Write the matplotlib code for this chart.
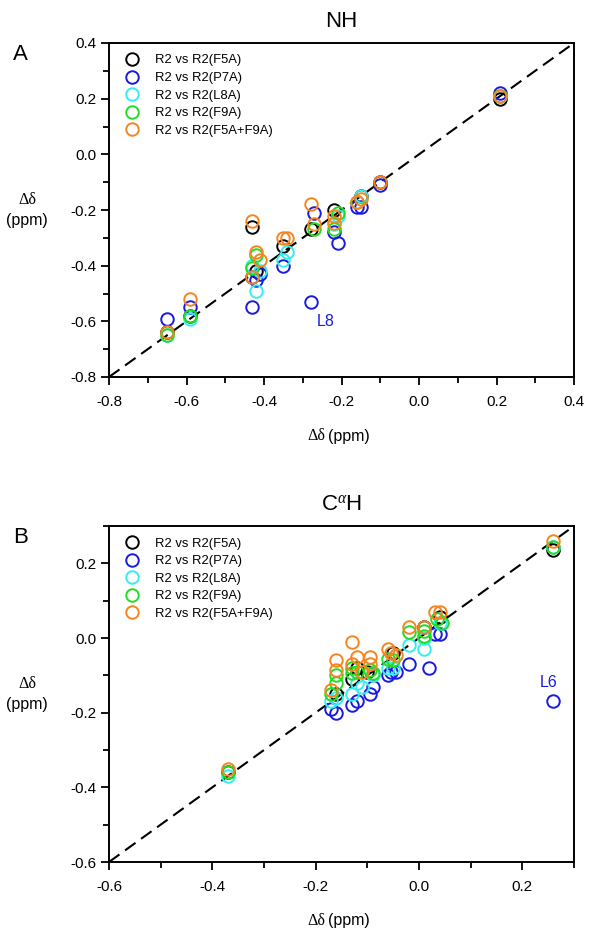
import matplotlib as mpl
mpl.use('Agg')
import matplotlib.pyplot as plt
from matplotlib.ticker import MultipleLocator

plt.rcParams['font.family'] = ['Liberation Sans', 'DejaVu Sans']
plt.rcParams['mathtext.fontset'] = 'custom'
plt.rcParams['mathtext.rm'] = 'Liberation Serif'
plt.rcParams['mathtext.it'] = 'Liberation Serif:italic'

labels = ['R2 vs R2(F5A)', 'R2 vs R2(P7A)', 'R2 vs R2(L8A)', 'R2 vs R2(F9A)', 'R2 vs R2(F5A+F9A)']
colors = ['black', '#1a1ae0', '#33eeee', '#22dd22', '#f5861f']

# panel A : NH
nh_f5a_x = [-0.65, -0.59, -0.43, -0.42, -0.35, -0.28, -0.22, -0.15, -0.10, 0.21]
nh_f5a_y = [-0.64, -0.58, -0.26, -0.42, -0.33, -0.27, -0.20, -0.15, -0.10, 0.20]
nh_p7a_x = [-0.65, -0.59, -0.43, -0.43, -0.42, -0.41, -0.35, -0.28, -0.27, -0.22, -0.21, -0.16, -0.15, -0.10, 0.21]
nh_p7a_y = [-0.59, -0.55, -0.55, -0.44, -0.45, -0.43, -0.40, -0.53, -0.21, -0.28, -0.32, -0.19, -0.19, -0.11, 0.22]
nh_l8a_x = [-0.65, -0.59, -0.43, -0.42, -0.41, -0.35, -0.34, -0.22, -0.21, -0.15, 0.21]
nh_l8a_y = [-0.65, -0.59, -0.40, -0.49, -0.42, -0.38, -0.35, -0.25, -0.22, -0.15, 0.21]
nh_f9a_x = [-0.65, -0.59, -0.43, -0.42, -0.27, -0.22, -0.21, -0.16, 0.21]
nh_f9a_y = [-0.65, -0.58, -0.41, -0.36, -0.27, -0.27, -0.21, -0.17, 0.21]
nh_f5f9_x = [-0.65, -0.59, -0.43, -0.43, -0.42, -0.41, -0.35, -0.34, -0.28, -0.27, -0.22, -0.22, -0.16, -0.15, -0.10, 0.21]
nh_f5f9_y = [-0.64, -0.52, -0.24, -0.44, -0.35, -0.38, -0.30, -0.30, -0.18, -0.25, -0.22, -0.245, -0.17, -0.16, -0.10, 0.21]

# panel B : CaH
ca_f5a_x = [-0.37, -0.16, -0.13, -0.12, -0.10, -0.05, 0.01, 0.04, 0.26]
ca_f5a_y = [-0.36, -0.15, -0.11, -0.08, -0.09, -0.04, 0.03, 0.055, 0.235]
ca_p7a_x = [-0.17, -0.16, -0.13, -0.12, -0.095, -0.09, -0.06, -0.055, -0.045, -0.02, 0.02, 0.03, 0.04, 0.26]
ca_p7a_y = [-0.19, -0.20, -0.18, -0.17, -0.15, -0.13, -0.10, -0.09, -0.09, -0.07, -0.08, 0.01, 0.01, -0.17]
ca_l8a_x = [-0.37, -0.17, -0.16, -0.13, -0.12, -0.11, -0.09, -0.06, -0.05, -0.02, 0.01, 0.01, 0.04, 0.26]
ca_l8a_y = [-0.37, -0.17, -0.16, -0.15, -0.12, -0.13, -0.10, -0.08, -0.08, -0.02, -0.03, 0.00, 0.04, 0.245]
ca_f9a_x = [-0.37, -0.17, -0.16, -0.16, -0.13, -0.13, -0.12, -0.095, -0.09, -0.06, -0.05, -0.02, 0.01, 0.01, 0.035, 0.045, 0.26]
ca_f9a_y = [-0.36, -0.15, -0.12, -0.10, -0.08, -0.095, -0.09, -0.085, -0.095, -0.055, -0.06, 0.015, 0.005, 0.02, 0.05, 0.04, 0.245]
ca_f5f9_x = [-0.37, -0.17, -0.16, -0.16, -0.13, -0.13, -0.12, -0.11, -0.095, -0.095, -0.06, -0.055, -0.045, -0.02, 0.01, 0.03, 0.04, 0.26]
ca_f5f9_y = [-0.35, -0.14, -0.06, -0.085, -0.01, -0.07, -0.05, -0.09, -0.05, -0.07, -0.03, -0.04, -0.045, 0.03, 0.03, 0.07, 0.07, 0.26]

nh_series = [(nh_f5a_x, nh_f5a_y), (nh_p7a_x, nh_p7a_y), (nh_l8a_x, nh_l8a_y),
             (nh_f9a_x, nh_f9a_y), (nh_f5f9_x, nh_f5f9_y)]
ca_series = [(ca_f5a_x, ca_f5a_y), (ca_p7a_x, ca_p7a_y), (ca_l8a_x, ca_l8a_y),
             (ca_f9a_x, ca_f9a_y), (ca_f5f9_x, ca_f5f9_y)]

W, H = 602, 936
fig = plt.figure(figsize=(W / 100, H / 100), dpi=100)


def panel(rect, series, lim, title, letter, note, note_xy, top_px, bot_px):
    ax = fig.add_axes(rect)
    ax.plot(lim, lim, color='black', lw=1.5, dashes=(6.2, 3.3), zorder=1)
    for (x, y), c, lab in zip(series, colors, labels):
        ax.plot(x, y, 'o', ms=9, mfc='none', mec=c, mew=1.4, label=lab, zorder=2)
    ax.set_xlim(lim)
    ax.set_ylim(lim)
    ax.xaxis.set_major_locator(MultipleLocator(0.2))
    ax.yaxis.set_major_locator(MultipleLocator(0.2))
    ax.xaxis.set_minor_locator(MultipleLocator(0.1))
    ax.yaxis.set_minor_locator(MultipleLocator(0.1))
    ax.xaxis.set_major_formatter(lambda v, p: '%.1f' % v)
    ax.yaxis.set_major_formatter(lambda v, p: '%.1f' % v)
    for s in ax.spines.values():
        s.set_linewidth(1.4)
    ax.tick_params(which='both', direction='out', width=1.3, labelsize=11)
    ax.tick_params(which='major', length=5.8)
    ax.tick_params(which='minor', length=4.3)
    ax.tick_params(axis='x', pad=7)
    ax.tick_params(axis='y', pad=3)
    ax.legend(loc='upper left', bbox_to_anchor=(0.036, 0.966), frameon=False,
              fontsize=9.4, handlelength=1.0, handletextpad=1.25, labelspacing=0.42,
              borderpad=0, borderaxespad=0)
    ax.text(0.5, 1.048, title, transform=ax.transAxes, ha='center', va='baseline', fontsize=16)
    ax.text(note_xy[0], note_xy[1], note, color=colors[1], fontsize=11.5, ha='center', va='center')
    fig.text(13 / W, 1 - (top_px + 17) / H, letter, fontsize=16, va='baseline', ha='left')
    mid = (top_px + bot_px) / 2
    fig.text(27 / W, 1 - (mid - 10) / H, 'Δδ', family='Liberation Serif', fontsize=11.5, ha='center', va='center')
    fig.text(27 / W, 1 - (mid + 10) / H, '(ppm)', fontsize=11.5, ha='center', va='center')
    fig.text(325 / W, 1 - (bot_px + 59) / H, 'Δδ', family='Liberation Serif', fontsize=11.5, ha='right', va='center')
    fig.text(328 / W, 1 - (bot_px + 59) / H, '(ppm)', fontsize=11.5, ha='left', va='center')
    return ax


panel([109 / W, 1 - 377 / H, 465 / W, 334 / H], nh_series, [-0.8, 0.4], 'NH', 'A',
      'L8', (-0.24, -0.60), 43, 377)
panel([109 / W, 1 - 862 / H, 465 / W, 336 / H], ca_series, [-0.6, 0.3], r'C$^{\alpha}$H', 'B',
      'L6', (0.25, -0.118), 526, 862)

fig.savefig('out.png', dpi=100)
